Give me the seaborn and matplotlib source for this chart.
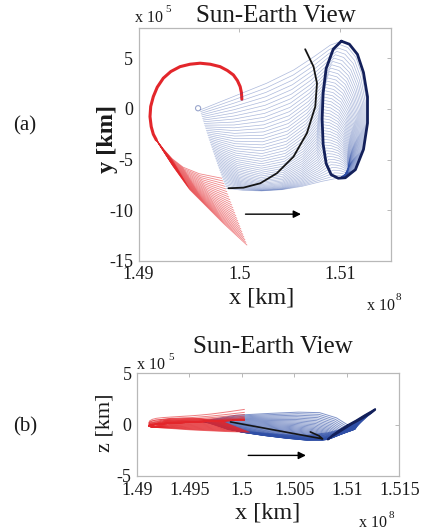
import numpy as np
import pandas as pd
import matplotlib
matplotlib.use("Agg")
import matplotlib.pyplot as plt
import seaborn as sns

# ---------------- trajectory data (x in 1e8 km, y and z in 1e5 km) ----------------
# red manifold: arc shared by every strand
red_arc_x = [1.50024, 1.50020, 1.50007, 1.49980, 1.49940, 1.49880, 1.49808, 1.49710, 1.49610, 1.49510,
             1.49411, 1.49320, 1.49245, 1.49185, 1.49146, 1.49120, 1.49113, 1.49125, 1.49146, 1.49175]
red_arc_y = [0.96, 1.60, 2.21, 2.80, 3.36, 3.80, 4.18, 4.42, 4.52, 4.42,
             4.18, 3.70, 3.04, 2.15, 1.22, 0.25, -0.76, -1.75, -2.50, -3.05]
red_arc_z_hi = [1.47, 1.46, 1.44, 1.40, 1.34, 1.25, 1.15, 1.02, 0.92, 0.84,
                0.78, 0.72, 0.67, 0.60, 0.50, 0.35, 0.15, 0.25, 0.35, 0.42]
red_arc_z_lo = [0.45, 0.44, 0.43, 0.42, 0.40, 0.38, 0.35, 0.31, 0.27, 0.22,
                0.17, 0.12, 0.07, 0.02, -0.04, -0.10, -0.15, -0.20, -0.24, -0.28]
# red manifold: upper and lower edge of the fan of tails
red_tail_hi_x = [1.49245, 1.49330, 1.49440, 1.49600, 1.49825]
red_tail_hi_y = [-3.95, -4.90, -5.75, -6.40, -6.85]
red_tail_hi_z = [0.50, 0.60, 0.62, 0.58, 0.25]
red_tail_lo_x = [1.49345, 1.49510, 1.49676, 1.49841, 1.50074]
red_tail_lo_y = [-5.71, -8.01, -9.66, -11.31, -13.45]
red_tail_lo_z = [-0.40, -0.52, -0.60, -0.68, -0.75]

# blue transfer family: top, middle and bottom member
blue_top_x = [1.4961, 1.4994, 1.5027, 1.5054, 1.5074, 1.5090, 1.5101]
blue_top_y = [-0.10, 1.22, 2.54, 3.86, 5.17, 6.30, 6.70]
blue_top_z = [0.30, 0.90, 1.08, 1.20, 1.15, 0.65, -0.05]
blue_mid_x = [1.4973, 1.4997, 1.5022, 1.5045, 1.5064, 1.5077, 1.5082]
blue_mid_y = [-3.90, -4.90, -5.30, -4.80, -3.50, -2.00, -0.50]
blue_mid_z = [0.00, -0.50, -0.82, -1.08, -1.30, -1.42, -1.45]
blue_bot_x = [1.4987, 1.5004, 1.5022, 1.5042, 1.5062, 1.5082, 1.5097]
blue_bot_y = [-7.84, -8.05, -8.10, -7.98, -7.65, -7.15, -6.85]
blue_bot_z = [-0.50, -0.68, -0.85, -1.00, -1.05, -0.80, -0.40]

# target halo orbit (closed, starting at its top point)
halo_x = [1.5101, 1.5109, 1.5117, 1.5123, 1.5127, 1.5127, 1.5123, 1.5115, 1.5105,
          1.5098, 1.5091, 1.5086, 1.5083, 1.5082, 1.5083, 1.5086, 1.5093, 1.5101]
halo_y = [6.70, 6.40, 5.40, 3.60, 1.20, -1.40, -4.00, -6.00, -6.80,
          -6.85, -6.50, -5.40, -3.50, -1.00, 1.60, 4.00, 5.90, 6.70]
halo_z = [-0.05, 0.40, 0.90, 1.25, 1.50, 1.42, 1.10, 0.60, 0.05,
          -0.40, -0.85, -1.15, -1.35, -1.45, -1.35, -1.05, -0.55, -0.05]

# nominal transfer trajectory
black_x = [1.49891, 1.50040, 1.50206, 1.50371, 1.50536, 1.50669, 1.50752, 1.50769, 1.50735, 1.50652]
black_y = [-7.84, -7.78, -7.35, -6.36, -4.72, -2.40, 0.23, 2.54, 4.18, 5.90]
black_z = [0.25, -0.03, -0.34, -0.65, -0.96, -1.21, -1.36, -1.40, -1.10, -0.72]

start_xyz = [1.4959, 0.07, 0.30]

# direction-of-motion arrows
arrow_a_x = [1.5006, 1.5061]
arrow_a_y = [-10.4, -10.4]
arrow_b_x = [1.5006, 1.5061]
arrow_b_z = [-3.0, -3.0]

# axis ticks
xticks_a = [1.49, 1.50, 1.51]
xticklabels_a = ["1.49", "1.5", "1.51"]
yticks_a = [-15, -10, -5, 0, 5]
yticklabels_a = ["-15", "-10", "-5", "0", "5"]
xticks_b = [1.49, 1.495, 1.50, 1.505, 1.51, 1.515]
xticklabels_b = ["1.49", "1.495", "1.5", "1.505", "1.51", "1.515"]
yticks_b = [-5, 0, 5]
yticklabels_b = ["-5", "0", "5"]

N_RED = 26
N_BLUE = 46

# ---------------- build strand tables ----------------
arr = lambda *v: [np.asarray(a, float) for a in v]
rax, ray, rzh, rzl = arr(red_arc_x, red_arc_y, red_arc_z_hi, red_arc_z_lo)
thx, thy, thz = arr(red_tail_hi_x, red_tail_hi_y, red_tail_hi_z)
tlx, tly, tlz = arr(red_tail_lo_x, red_tail_lo_y, red_tail_lo_z)

rows = []
for k, w in enumerate(np.linspace(0, 1, N_RED)):
    wz = 1 - (1 - w) ** 8          # only the first strand climbs to the upper arc
    x = np.r_[rax, (1 - w) * thx + w * tlx]
    y = np.r_[ray, (1 - w) * thy + w * tly]
    z = np.r_[(1 - wz) * rzh + wz * rzl, (1 - w) * thz + w * tlz]
    rows.append(pd.DataFrame({"strand": k, "x": x, "y": y, "z": z}))
red_df = pd.concat(rows, ignore_index=True)

T = np.array([blue_top_x, blue_top_y, blue_top_z])
M = np.array([blue_mid_x, blue_mid_y, blue_mid_z])
B = np.array([blue_bot_x, blue_bot_y, blue_bot_z])
C = 2 * M - (T + B) / 2
H = np.array([halo_x, halo_y, halo_z])
right_half = H[:, :10]
top, bot = right_half[:, 0], right_half[:, -1]
u = np.linspace(0, 1, right_half.shape[1])

rows = []
for k, w in enumerate(np.linspace(0, 1, N_BLUE)):
    P = (1 - w) ** 2 * T + 2 * w * (1 - w) * C + w ** 2 * B
    A = P[:, -1]
    s = np.clip((A[1] - bot[1]) / (top[1] - bot[1]), 0, 1)
    sx = s ** 0.3
    ax_ = bot[0] + sx * (right_half[0] - bot[0])
    ax_ += (A[0] - ax_[0]) * (1 - u) ** 0.7
    ay_ = bot[1] + s * (right_half[1] - bot[1])
    az_ = bot[2] + s * (right_half[2] - bot[2])
    az_ += (A[2] - az_[0]) * (1 - u)
    x = np.r_[P[0], ax_[1:]]
    y = np.r_[P[1], ay_[1:]]
    z = np.r_[P[2], az_[1:]]
    rows.append(pd.DataFrame({"strand": k, "x": x, "y": y, "z": z}))
blue_df = pd.concat(rows, ignore_index=True)

halo_df = pd.DataFrame({"x": halo_x, "y": halo_y, "z": halo_z})
black_df = pd.DataFrame({"x": black_x, "y": black_y, "z": black_z})
arc_df = pd.DataFrame({"x": red_arc_x, "y": red_arc_y})

# ---------------- figure ----------------
sns.set_theme(style="white")
plt.rcParams["font.family"] = ["Liberation Serif", "DejaVu Serif"]

W, Hpx = 422, 531
fig = plt.figure(figsize=(W / 100, Hpx / 100), dpi=100)
fig.patch.set_facecolor("white")


def box(l, t, r, b):
    return [l / W, 1 - b / Hpx, (r - l) / W, (b - t) / Hpx]


ax_a = fig.add_axes(box(138.6, 28, 390.7, 260.7))
ax_b = fig.add_axes(box(137, 373, 399.3, 476))

RED = "#e3262b"
BLUE = "#2f4fa6"
NAVY = "#13205a"


def strands(df, ax, ycol, color, lw, alpha):
    sns.lineplot(data=df, x="x", y=ycol, units="strand", estimator=None, sort=False,
                 color=color, linewidth=lw, alpha=alpha, ax=ax, legend=False)


def path(df, ax, ycol, color, lw):
    sns.lineplot(data=df, x="x", y=ycol, estimator=None, sort=False,
                 color=color, linewidth=lw, ax=ax, legend=False)


# panel (a): x-y
strands(red_df, ax_a, "y", RED, 0.6, 0.55)
path(arc_df, ax_a, "y", RED, 2.2)
strands(blue_df, ax_a, "y", BLUE, 0.5, 0.40)
path(halo_df, ax_a, "y", NAVY, 2.0)
path(black_df, ax_a, "y", "#151515", 1.3)
sns.scatterplot(x=[start_xyz[0]], y=[start_xyz[1]], s=14, facecolor="none",
                edgecolor="#9aa6cc", linewidth=0.8, ax=ax_a)
ax_a.annotate("", xy=(arrow_a_x[1], arrow_a_y[1]), xytext=(arrow_a_x[0], arrow_a_y[0]),
              arrowprops=dict(arrowstyle="-|>", color="black", lw=1.0, mutation_scale=11,
                              shrinkA=0, shrinkB=0))

# panel (b): x-z
strands(blue_df, ax_b, "z", BLUE, 0.7, 0.6)
strands(red_df, ax_b, "z", RED, 0.7, 0.6)
path(halo_df, ax_b, "z", NAVY, 1.3)
path(black_df, ax_b, "z", "#151515", 1.2)
ax_b.annotate("", xy=(arrow_b_x[1], arrow_b_z[1]), xytext=(arrow_b_x[0], arrow_b_z[0]),
              arrowprops=dict(arrowstyle="-|>", color="black", lw=1.0, mutation_scale=11,
                              shrinkA=0, shrinkB=0))

# axes styling
for ax, (xt, xl, yt, yl, xlim, ylim) in [
    (ax_a, (xticks_a, xticklabels_a, yticks_a, yticklabels_a, (1.49, 1.515), (-15, 8))),
    (ax_b, (xticks_b, xticklabels_b, yticks_b, yticklabels_b, (1.49, 1.515), (-5, 5))),
]:
    ax.set_xlim(*xlim)
    ax.set_ylim(*ylim)
    ax.set_xticks(xt)
    ax.set_xticklabels(xl)
    ax.set_yticks(yt)
    ax.set_yticklabels(yl)
    ax.set_xlabel("")
    ax.set_ylabel("")
    ax.set_facecolor("white")
    for sp in ax.spines.values():
        sp.set_visible(True)
        sp.set_color("#b8b8b8")
        sp.set_linewidth(0.9)
    ax.tick_params(direction="in", length=3, width=0.7, color="#b8b8b8", top=True, right=True,
                   labelsize=13, labelcolor="#1a1a1a", pad=4)

TXT = "#1a1a1a"


def ftext(x, y, s, **kw):
    kw.setdefault("ha", "center")
    kw.setdefault("va", "center")
    kw.setdefault("color", TXT)
    fig.text(x / W, 1 - y / Hpx, s, **kw)


# titles and exponent labels
ftext(276, 16, "Sun-Earth View", fontsize=18)
ftext(135, 18, "x 10", fontsize=11.5, ha="left")
ftext(168, 9, "5", fontsize=8)
ftext(273, 347, "Sun-Earth View", fontsize=18)
ftext(137, 365, "x 10", fontsize=11.5, ha="left")
ftext(171, 357, "5", fontsize=8)
ftext(367, 306, "x 10", fontsize=11.5, ha="left")
ftext(398, 298, "8", fontsize=8)
ftext(359, 523, "x 10", fontsize=11.5, ha="left")
ftext(391, 515, "8", fontsize=8)

# axis labels
ftext(262, 298, "x [km]", fontsize=17.5)
ftext(268, 513, "x [km]", fontsize=17.5)
ftext(108, 139, "y [km]", fontsize=17.5, rotation=90, fontweight="bold")
ftext(105, 423, "z [km]", fontsize=16, rotation=90)

# panel tags
ftext(25, 126, "(a)", fontsize=15)
ftext(25, 427, "(b)", fontsize=15)

fig.savefig("out.png", dpi=100, facecolor="white")
